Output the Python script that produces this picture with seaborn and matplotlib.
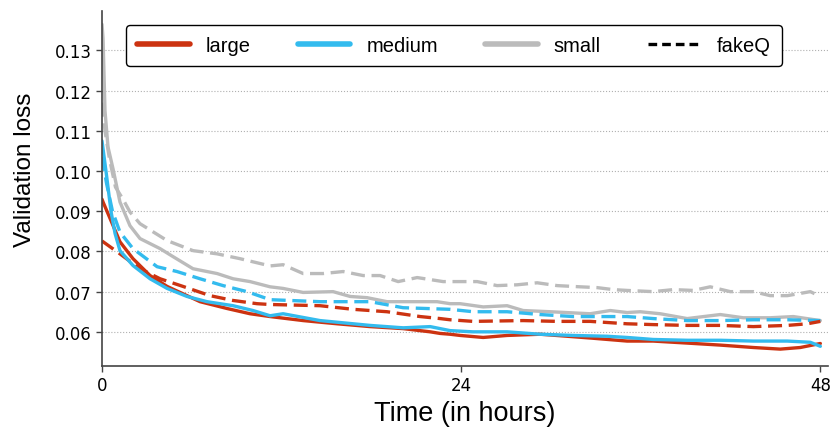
import matplotlib
matplotlib.use("Agg")
import matplotlib.pyplot as plt
from matplotlib.lines import Line2D
import seaborn as sns
import pandas as pd

# ---- data (hours, validation loss) ----
large_h = [0, 0.07, 1.20, 2.07, 3.21, 4.35, 5.68, 6.55, 8.36, 9.89, 11.23, 13.44, 15.71,
           17.91, 20.12, 21.93, 22.59, 23.26, 23.93, 25.47, 27.07, 29.28, 31.08, 32.82,
           35.09, 36.83, 39.10, 41.31, 43.52, 45.32, 46.66, 48.0]
large_v = [0.0930, 0.0923, 0.0824, 0.0782, 0.0740, 0.0713, 0.0690, 0.0675, 0.0658, 0.0645,
           0.0638, 0.0628, 0.0620, 0.0613, 0.0608, 0.0600, 0.0596, 0.0594, 0.0591, 0.0586,
           0.0591, 0.0594, 0.0589, 0.0584, 0.0577, 0.0577, 0.0572, 0.0567, 0.0561, 0.0557,
           0.0561, 0.0571]

medium_h = [0, 0.3, 0.6, 0.87, 1.20, 2.07, 3.21, 4.35, 5.68, 7.02, 8.76, 10.09, 11.23, 12.10,
            14.57, 17.91, 20.12, 21.93, 23.26, 24.80, 27.07, 29.28, 31.48, 33.76, 35.09,
            36.83, 39.10, 41.31, 43.52, 45.79, 47.33, 48.0]
medium_v = [0.1075, 0.0990, 0.0900, 0.0845, 0.0802, 0.0765, 0.0732, 0.0708, 0.0688, 0.0675,
            0.0665, 0.0653, 0.0640, 0.0645, 0.0628, 0.0616, 0.0610, 0.0613, 0.0603, 0.0600,
            0.0600, 0.0594, 0.0591, 0.0589, 0.0586, 0.0581, 0.0579, 0.0579, 0.0577, 0.0577,
            0.0574, 0.0564]

small_h = [0, 0.07, 0.2, 0.4, 0.74, 1.20, 1.87, 2.54, 3.88, 4.75, 6.08, 7.69, 8.76, 9.89,
           11.23, 12.10, 13.44, 15.44, 16.58, 17.71, 19.05, 20.59, 22.39, 23.26, 23.93, 25.47,
           27.07, 28.14, 29.95, 32.62, 33.96, 35.09, 35.96, 37.30, 39.10, 41.31, 42.85,
           44.65, 46.19, 48.0]
small_v = [0.1365, 0.1330, 0.1150, 0.1060, 0.1005, 0.0923, 0.0864, 0.0832, 0.0807, 0.0787,
           0.0757, 0.0745, 0.0732, 0.0725, 0.0712, 0.0708, 0.0698, 0.0700, 0.0688, 0.0685,
           0.0675, 0.0675, 0.0675, 0.0670, 0.0670, 0.0662, 0.0665, 0.0653, 0.0650, 0.0645,
           0.0653, 0.0648, 0.0650, 0.0645, 0.0633, 0.0643, 0.0635, 0.0635, 0.0638, 0.0628]

large_fq_h = [0, 1.2, 2.54, 3.88, 5.41, 7.22, 8.76, 10.36, 11.23, 14.57, 16.78, 19.05, 21.26,
              22.59, 23.26, 24.80, 28.14, 30.41, 32.62, 35.09, 36.83, 39.10, 41.31, 43.52,
              45.79, 47.13, 48.0]
large_fq_v = [0.0826, 0.0794, 0.0757, 0.0732, 0.0713, 0.0690, 0.0678, 0.0670, 0.0668, 0.0665,
              0.0656, 0.0650, 0.0638, 0.0633, 0.0630, 0.0626, 0.0628, 0.0626, 0.0626, 0.0620,
              0.0618, 0.0616, 0.0616, 0.0613, 0.0616, 0.0620, 0.0626]

medium_fq_h = [0, 0.3, 0.7, 1.2, 2.07, 3.68, 5.01, 6.55, 8.09, 9.69, 11.23, 14.57, 17.91,
               20.12, 23.26, 24.80, 27.07, 29.28, 31.48, 33.76, 35.09, 36.83, 39.10, 41.31,
               43.52, 45.79, 48.0]
medium_fq_v = [0.1035, 0.0970, 0.0900, 0.0848, 0.0807, 0.0762, 0.0750, 0.0732, 0.0715, 0.0700,
               0.0680, 0.0675, 0.0675, 0.0660, 0.0656, 0.0650, 0.0650, 0.0643, 0.0638, 0.0638,
               0.0638, 0.0633, 0.0628, 0.0628, 0.0630, 0.0630, 0.0628]

small_fq_h = [0, 0.2, 0.5, 0.9, 1.4, 1.87, 2.54, 4.35, 6.08, 7.69, 9.22, 11.23, 12.10, 13.44,
              14.77, 16.11, 17.45, 18.58, 19.79, 21.06, 22.79, 23.93, 25.07, 26.40, 27.74,
              29.08, 30.41, 31.95, 33.09, 34.16, 35.09, 36.83, 38.17, 39.51, 40.64, 41.98,
              43.52, 44.65, 45.79, 47.33, 48.0]
small_fq_v = [0.1170, 0.1100, 0.1030, 0.0960, 0.0930, 0.0898, 0.0869, 0.0827, 0.0802, 0.0794,
              0.0782, 0.0764, 0.0767, 0.0745, 0.0745, 0.0750, 0.0740, 0.0740, 0.0725, 0.0735,
              0.0725, 0.0725, 0.0725, 0.0715, 0.0717, 0.0722, 0.0715, 0.0712, 0.0710, 0.0705,
              0.0703, 0.0700, 0.0705, 0.0703, 0.0712, 0.0700, 0.0700, 0.0690, 0.0690, 0.0700,
              0.0688]

labels = ["large", "medium", "small", "fakeQ"]
xticks = [0, 24, 48]
yticks = [0.06, 0.07, 0.08, 0.09, 0.10, 0.11, 0.12, 0.13]

colors = {"large": "#CC3311", "medium": "#33BBEE", "small": "#BBBBBB"}
dash = (0, (4.2, 2.0))

sns.set_style("ticks")
plt.rcParams["font.family"] = ["DejaVu Sans"]
plt.rcParams["text.color"] = "black"
plt.rcParams["axes.labelcolor"] = "black"

fig = plt.figure(figsize=(8.32, 4.31), dpi=100)
ax = fig.add_axes([0.1226, 0.1485, 0.8724, 0.8235])

series = [
    ("small", "fakeQ", small_fq_h, small_fq_v),
    ("small", "base", small_h, small_v),
    ("medium", "fakeQ", medium_fq_h, medium_fq_v),
    ("large", "fakeQ", large_fq_h, large_fq_v),
    ("large", "base", large_h, large_v),
    ("medium", "base", medium_h, medium_v),
]
for size, kind, h, v in series:
    df = pd.DataFrame({"hours": h, "loss": v})
    sns.lineplot(data=df, x="hours", y="loss", ax=ax, color=colors[size], lw=2.4,
                 linestyle=dash if kind == "fakeQ" else "-", legend=False)

ax.set_xlim(0, 48.5)
ax.set_ylim(0.0515, 0.1398)
ax.set_xticks(xticks)
ax.set_xticklabels([str(t) for t in xticks])
ax.set_yticks(yticks)
ax.set_yticklabels([f"{t:.2f}" for t in yticks])
ax.tick_params(labelsize=12, colors="#444444", labelcolor="black", length=4, width=1)
ax.grid(axis="y", linestyle=":", color="#b0b0b0", lw=0.8)
ax.grid(axis="x", visible=False)
for s in ["top", "right"]:
    ax.spines[s].set_visible(False)
for s in ["left", "bottom"]:
    ax.spines[s].set_color("#444444")
    ax.spines[s].set_linewidth(1.2)

ax.set_xlabel("Time (in hours)", fontsize=19.5, family=["Liberation Sans"], color="black")
ax.set_ylabel("Validation loss", fontsize=17.5, family=["Liberation Sans"], color="black")
ax.yaxis.set_label_coords(-0.091, 0.555)

handles = [
    Line2D([], [], color=colors["large"], lw=4, solid_capstyle="round"),
    Line2D([], [], color=colors["medium"], lw=4, solid_capstyle="round"),
    Line2D([], [], color=colors["small"], lw=4, solid_capstyle="round"),
    Line2D([], [], color="black", lw=2.4, linestyle=(0, (2.6, 1.5))),
]
leg = ax.legend(handles, labels, loc="upper center", bbox_to_anchor=(0.485, 0.99), ncol=4,
                prop={"family": "Liberation Sans", "size": 14.5}, frameon=True,
                edgecolor="black", fancybox=True, handlelength=2.6, columnspacing=2.35,
                borderpad=0.55)
leg.get_frame().set_linewidth(1.0)
leg.get_frame().set_alpha(1)
for t in leg.get_texts():
    t.set_color("black")

fig.savefig("out.png", dpi=100)
